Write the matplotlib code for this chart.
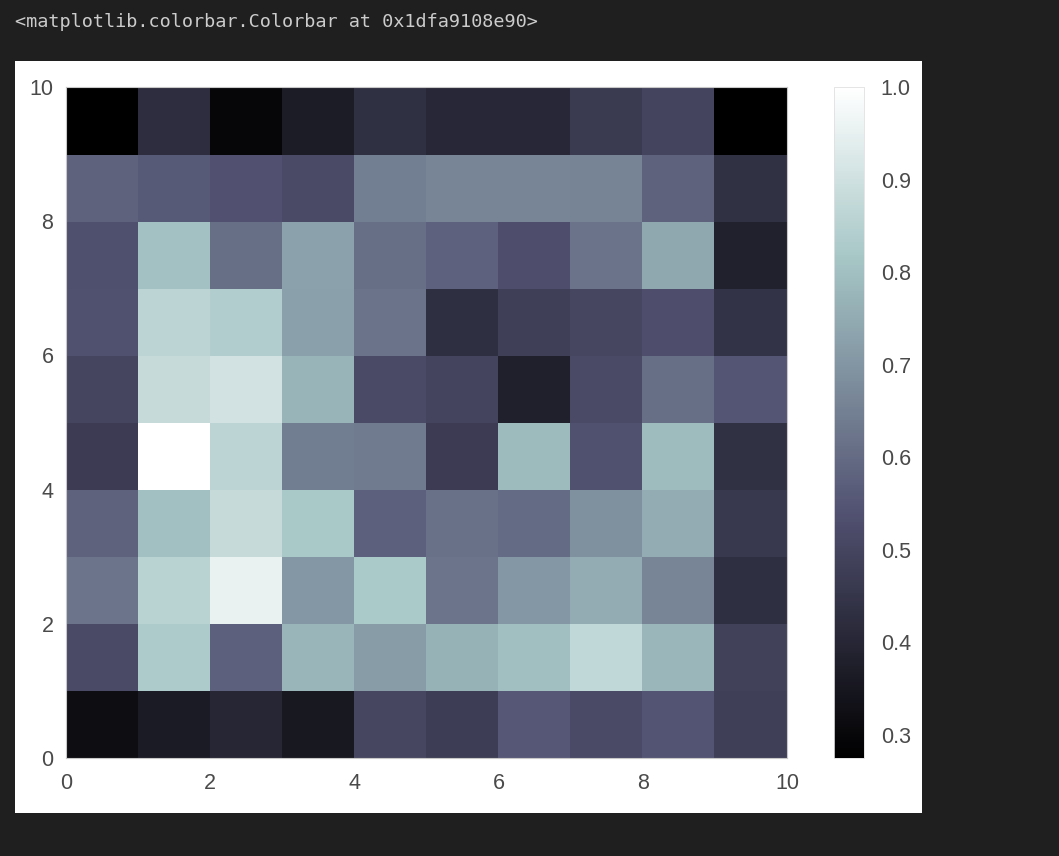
import numpy as np
import matplotlib
matplotlib.use("Agg")
import matplotlib.pyplot as plt
from matplotlib.patches import Rectangle

# cell values, one list per grid row (row 0 = bottom)
row0 = [0.320, 0.363, 0.398, 0.353, 0.503, 0.474, 0.555, 0.515, 0.545, 0.480]
row1 = [0.515, 0.830, 0.574, 0.776, 0.714, 0.766, 0.798, 0.871, 0.778, 0.485]
row2 = [0.623, 0.853, 0.954, 0.704, 0.822, 0.623, 0.704, 0.753, 0.662, 0.428]
row3 = [0.580, 0.800, 0.880, 0.820, 0.574, 0.613, 0.600, 0.688, 0.753, 0.457]
row4 = [0.470, 1.000, 0.860, 0.643, 0.640, 0.468, 0.785, 0.535, 0.790, 0.435]
row5 = [0.500, 0.880, 0.904, 0.773, 0.515, 0.496, 0.382, 0.515, 0.610, 0.548]
row6 = [0.535, 0.861, 0.838, 0.724, 0.620, 0.428, 0.480, 0.503, 0.529, 0.441]
row7 = [0.532, 0.802, 0.610, 0.727, 0.610, 0.577, 0.529, 0.620, 0.740, 0.385]
row8 = [0.580, 0.561, 0.538, 0.515, 0.645, 0.662, 0.662, 0.660, 0.580, 0.435]
row9 = [0.275, 0.425, 0.297, 0.366, 0.431, 0.405, 0.405, 0.464, 0.496, 0.277]

axis_ticks = [0, 2, 4, 6, 8, 10]
cbar_ticks = [0.3, 0.4, 0.5, 0.6, 0.7, 0.8, 0.9, 1.0]
cell_output = "<matplotlib.colorbar.Colorbar at 0x1dfa9108e90>"

data = np.array([row0, row1, row2, row3, row4, row5, row6, row7, row8, row9])

W, H = 1059, 856
fig = plt.figure(figsize=(W / 100, H / 100), dpi=100, facecolor="#1f1f1f")

def box(x0, y0, x1, y1):
    # pixel box (top-left origin) -> figure fraction rect
    return [x0 / W, 1 - y1 / H, (x1 - x0) / W, (y1 - y0) / H]

# white "image" area of the notebook output, kept behind the axes
fig.patches.append(Rectangle((15 / W, 1 - 813 / H), (922 - 15) / W, (813 - 61) / H,
                             transform=fig.transFigure, facecolor="white",
                             edgecolor="none", zorder=-5))

fig.text(15 / W, 1 - 22 / H, cell_output, family="DejaVu Sans Mono",
         fontsize=13.3, color="#cccccc", va="center", ha="left")

ax = fig.add_axes(box(66, 87, 787, 758))
cax = fig.add_axes(box(834, 87, 864, 758))

tick_col = "#4a4a4a"
fsize = 15.5

mesh = ax.pcolor(data, cmap="bone")
ax.set_xlim(0, 10)
ax.set_ylim(0, 10)
ax.set_xticks(axis_ticks)
ax.set_yticks(axis_ticks)
ax.tick_params(axis="x", length=0, pad=11, labelsize=fsize, labelcolor=tick_col)
ax.tick_params(axis="y", length=0, pad=9, labelsize=fsize, labelcolor=tick_col)
for lab in ax.get_xticklabels() + ax.get_yticklabels():
    lab.set_family("Liberation Sans")
for s in ax.spines.values():
    s.set_color("#c8c8c8")
    s.set_linewidth(0.8)

cb = fig.colorbar(mesh, cax=cax)
cb.set_ticks(cbar_ticks)
cb.outline.set_edgecolor("#e0e0e0")
cb.outline.set_linewidth(0.6)
cax.tick_params(length=0, pad=12, labelsize=fsize, labelcolor=tick_col)
for lab in cax.get_yticklabels():
    lab.set_family("Liberation Sans")

fig.savefig("out.png", dpi=100, facecolor=fig.get_facecolor())
